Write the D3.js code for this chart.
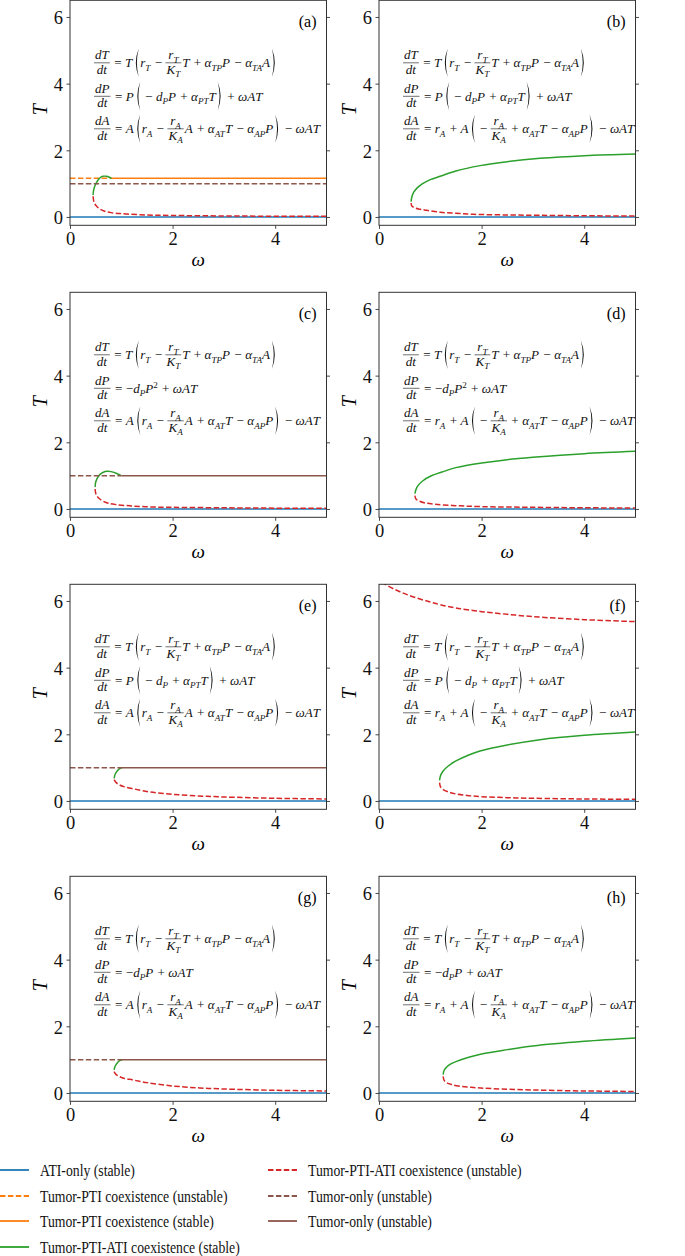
<!DOCTYPE html>
<html>
<head>
<meta charset="utf-8">
<script src="https://cdn.jsdelivr.net/npm/d3@7"></script>
<style>
  body { margin: 0; background: #fff; }
  text { font-family: "Liberation Serif", "DejaVu Serif", serif; white-space: pre; }
</style>
</head>
<body>
<svg id="chart"></svg>
<script>
// ---- data ----
var xTicks = [0, 2, 4];
var yTicks = [0, 2, 4, 6];
var panelLabels = ["(a)", "(b)", "(c)", "(d)", "(e)", "(f)", "(g)", "(h)"];

var atiOnlyT = 0;      // ATI-only equilibrium
var tumorOnlyT = 1.0;  // tumor-only equilibrium
var tumorPtiT = 1.16;  // tumor-PTI equilibrium (panel a)

// omega ranges of the constant branches, per panel (null = not drawn)
var tumorPtiUnstable = [[0, 0.8], null, null, null, null, null, null, null];
var tumorPtiStable   = [[0.8, 5], null, null, null, null, null, null, null];
var tumorOnlyUnstable = [[0, 5], null, [0, 1.0], null, [0, 1.0], null, [0, 1.03], null];
var tumorOnlyStable   = [null, null, [1.0, 5], null, [1.0, 5], null, [1.03, 5], null];

// tumor-PTI-ATI coexistence, stable (green) branches [omega, T]
var aGreen = [[0.45,0.66],[0.46,0.8],[0.49,0.95],[0.53,1.07],[0.58,1.17],[0.64,1.22],[0.71,1.22],[0.77,1.19],[0.81,1.16]];
var bGreen = [[0.625,0.46],[0.64,0.6],[0.68,0.75],[0.75,0.88],[0.85,1.0],[1.0,1.12],[1.19,1.22],[1.5,1.38],[1.97,1.54],[2.5,1.66],[3.14,1.76],[4,1.84],[5,1.89]];
var cGreen = [[0.49,0.66],[0.5,0.8],[0.53,0.92],[0.58,1.03],[0.65,1.1],[0.72,1.13],[0.8,1.12],[0.9,1.07],[1.0,1.0]];
var dGreen = [[0.7,0.46],[0.72,0.58],[0.76,0.7],[0.85,0.84],[1.0,0.98],[1.25,1.12],[1.5,1.24],[2,1.38],[2.5,1.48],[3,1.55],[4,1.66],[5,1.73]];
var eGreen = [[0.86,0.68],[0.88,0.8],[0.92,0.9],[0.97,0.97],[1.02,1.0]];
var fGreen = [[1.18,0.62],[1.2,0.76],[1.25,0.9],[1.35,1.05],[1.5,1.2],[1.75,1.38],[1.97,1.5],[2.5,1.68],[3.14,1.84],[4,1.97],[5,2.07]];
var gGreen = [[0.86,0.69],[0.88,0.8],[0.92,0.9],[0.97,0.97],[1.03,1.0]];
var hGreen = [[1.25,0.55],[1.27,0.68],[1.32,0.78],[1.4,0.87],[1.5,0.94],[1.75,1.07],[2,1.17],[2.5,1.3],[3,1.41],[4,1.55],[5,1.65]];

// tumor-PTI-ATI coexistence, unstable (red) branches [omega, T]
var aRed = [[0.45,0.62],[0.46,0.5],[0.48,0.4],[0.52,0.32],[0.58,0.24],[0.66,0.18],[0.8,0.13],[1.0,0.1],[1.5,0.06],[2,0.045],[3,0.03],[4,0.022],[5,0.018]];
var bRed = [[0.625,0.42],[0.64,0.33],[0.7,0.27],[0.8,0.23],[0.93,0.2],[1.2,0.14],[1.5,0.11],[1.84,0.08],[2.5,0.06],[3.14,0.05],[4,0.035],[5,0.03]];
var cRed = [[0.49,0.6],[0.5,0.48],[0.53,0.38],[0.58,0.3],[0.65,0.23],[0.75,0.17],[0.9,0.13],[1.2,0.09],[1.6,0.06],[2,0.05],[3,0.035],[4,0.025],[5,0.02]];
var dRed = [[0.7,0.4],[0.72,0.3],[0.78,0.24],[0.9,0.18],[1.1,0.14],[1.5,0.1],[2,0.07],[3,0.05],[4,0.035],[5,0.03]];
var eRed = [[0.86,0.64],[0.9,0.55],[0.97,0.48],[1.05,0.43],[1.25,0.36],[1.56,0.27],[2,0.2],[2.5,0.15],[3,0.12],[4,0.08],[5,0.06]];
var fRedUpper = [[0.05,6.56],[0.12,6.5],[0.3,6.35],[0.5,6.22],[0.75,6.08],[1.0,5.97],[1.19,5.89],[1.5,5.79],[2,5.68],[2.5,5.6],[3,5.53],[4,5.44],[5,5.38]];
var fRed = [[1.18,0.55],[1.2,0.42],[1.25,0.34],[1.35,0.27],[1.5,0.21],[1.75,0.16],[2,0.13],[2.5,0.1],[3,0.08],[4,0.06],[5,0.05]];
var gRed = [[0.86,0.64],[0.9,0.55],[0.97,0.49],[1.05,0.44],[1.23,0.39],[1.5,0.31],[2,0.21],[2.53,0.15],[3,0.12],[4,0.08],[5,0.06]];
var hRed = [[1.25,0.5],[1.27,0.38],[1.32,0.31],[1.4,0.26],[1.55,0.21],[1.8,0.17],[2.2,0.13],[3,0.09],[4,0.06],[5,0.045]];

var greenBranches = [aGreen, bGreen, cGreen, dGreen, eGreen, fGreen, gGreen, hGreen];
var redBranches = [[aRed], [bRed], [cRed], [dRed], [eRed], [fRedUpper, fRed], [gRed], [hRed]];

// model equations (markup: _ subscript, ^ superscript, fr = fraction, ( ) = big parens)
var eqT = [{fr: ["dT", "dt"]}, "=", "T", "(", "r_T", "−", {fr: ["r_T", "K_T"]}, "T", "+", "α_{TP}P", "−", "α_{TA}A", ")"];
var eqP1 = [{fr: ["dP", "dt"]}, "=", "P", "(", "−", "d_PP", "+", "α_{PT}T", ")", "+", "ωAT"];
var eqP2 = [{fr: ["dP", "dt"]}, "=", "−d_PP^2", "+", "ωAT"];
var eqP3 = [{fr: ["dP", "dt"]}, "=", "P", "(", "−", "d_P", "+", "α_{PT}T", ")", "+", "ωAT"];
var eqP4 = [{fr: ["dP", "dt"]}, "=", "−d_PP", "+", "ωAT"];
var eqA1 = [{fr: ["dA", "dt"]}, "=", "A", "(", "r_A", "−", {fr: ["r_A", "K_A"]}, "A", "+", "α_{AT}T", "−", "α_{AP}P", ")", "−", "ωAT"];
var eqA2 = [{fr: ["dA", "dt"]}, "=", "r_A", "+", "A", "(", "−", {fr: ["r_A", "K_A"]}, "+", "α_{AT}T", "−", "α_{AP}P", ")", "−", "ωAT"];
var eqP = [eqP1, eqP1, eqP2, eqP2, eqP3, eqP3, eqP4, eqP4];
var eqA = [eqA1, eqA2, eqA1, eqA2, eqA1, eqA2, eqA1, eqA2];

var legendLeft = ["ATI-only (stable)", "Tumor-PTI coexistence (unstable)", "Tumor-PTI coexistence (stable)", "Tumor-PTI-ATI coexistence (stable)"];
var legendRight = ["Tumor-PTI-ATI coexistence (unstable)", "Tumor-only (unstable)", "Tumor-only (unstable)"];

// ---- layout ----
var svgWidth = 685, svgHeight = 1256;
var colX = [70, 379];
var rowY = [0.3, 292.3, 584.3, 876.3];
var pw = 256.5, ph = 225;

var blue = "#1f77b4", orange = "#ff7f0e", green = "#2ca02c", red = "#d62728", brown = "#8c564b";
var dash = "5.5,2.4";
var axisColor = "#333";

var svg = d3.select("#chart")
  .attr("width", svgWidth)
  .attr("height", svgHeight)
  .style("background", "#fff");

// math text helper: returns text selection with tspans, x set later
function mathText(g, str, fs) {
  var runs = [];
  var i = 0;
  while (i < str.length) {
    var c = str[i];
    if (c === "_" || c === "^") {
      var s;
      if (str[i + 1] === "{") {
        var j = str.indexOf("}", i);
        s = str.slice(i + 2, j);
        i = j + 1;
      } else {
        s = str[i + 1];
        i += 2;
      }
      runs.push({t: s, sh: c === "_" ? fs * 0.28 : -fs * 0.38});
    } else {
      runs.push({t: c, sh: 0});
      i++;
    }
  }
  var t = g.append("text").attr("font-size", fs).attr("fill", "#111");
  var cur = 0;
  runs.forEach(function(r) {
    var italic = /[A-Za-zαω]/.test(r.t);
    t.append("tspan")
      .attr("dy", r.sh - cur)
      .attr("font-size", r.sh ? fs * 0.7 : fs)
      .attr("font-style", italic ? "italic" : "normal")
      .text(r.t);
    cur = r.sh;
  });
  return t;
}

function drawParen(g, x, open, h) {
  var w = 4.6;
  var path;
  if (open) {
    path = "M" + (x + w) + "," + (-h) + " Q" + (x - 1.2) + ",0 " + (x + w) + "," + h +
      " Q" + (x + 0.9) + ",0 " + (x + w) + "," + (-h) + "Z";
  } else {
    path = "M" + x + "," + (-h) + " Q" + (x + w + 1.2) + ",0 " + x + "," + h +
      " Q" + (x + w - 0.9) + ",0 " + x + "," + (-h) + "Z";
  }
  g.append("path").attr("d", path).attr("fill", "#111");
  return w;
}

// lays out one equation line with the fraction bar at y=0, returns natural width
function drawEquation(g, tokens, fs) {
  var x = 0;
  var base = fs * 0.33;
  var opGap = fs * 0.26;
  tokens.forEach(function(tk) {
    if (typeof tk === "object") {
      var n = mathText(g, tk.fr[0], fs).attr("y", -fs * 0.26);
      var d = mathText(g, tk.fr[1], fs).attr("y", fs * 0.85);
      var wn = n.node().getComputedTextLength();
      var wd = d.node().getComputedTextLength();
      var w = Math.max(wn, wd) + 2;
      n.attr("x", x + (w - wn) / 2);
      d.attr("x", x + (w - wd) / 2);
      g.append("line")
        .attr("x1", x).attr("x2", x + w)
        .attr("y1", 0).attr("y2", 0)
        .attr("stroke", "#111").attr("stroke-width", 0.6);
      x += w + 1;
    } else if (tk === "(" || tk === ")") {
      x += 1;
      x += drawParen(g, x, tk === "(", fs * 1.1);
      x += 1.5;
    } else if (tk === "=" || tk === "+" || tk === "−") {
      x += opGap;
      var o = g.append("text").attr("font-size", fs).attr("fill", "#111")
        .attr("x", x).attr("y", base).text(tk);
      x += o.node().getComputedTextLength() + opGap;
    } else {
      var t = mathText(g, tk, fs).attr("x", x).attr("y", base);
      x += t.node().getComputedTextLength() + 0.8;
    }
  });
  return x;
}

var line = d3.line().curve(d3.curveCatmullRom.alpha(0.5));

var eqGroups = [];

panelLabels.forEach(function(label, p) {
  var col = p % 2, row = Math.floor(p / 2);
  var x0 = colX[col], y0 = rowY[row];

  var x = d3.scaleLinear().domain([0, 5]).range([x0, x0 + pw]);
  var y = d3.scaleLinear().domain([-0.25, 6.5]).range([y0 + ph, y0]);

  var clipId = "clip" + p;
  svg.append("clipPath").attr("id", clipId)
    .append("rect").attr("x", x0).attr("y", y0).attr("width", pw).attr("height", ph);

  var plot = svg.append("g").attr("clip-path", "url(#" + clipId + ")");

  function hline(T, range, color, dashed) {
    if (!range) return;
    plot.append("line")
      .attr("x1", x(range[0])).attr("x2", x(range[1]))
      .attr("y1", y(T)).attr("y2", y(T))
      .attr("stroke", color).attr("stroke-width", 1.5)
      .attr("stroke-dasharray", dashed ? dash : null);
  }
  function curve(pts, color, dashed) {
    plot.append("path")
      .attr("d", line(pts.map(function(d) { return [x(d[0]), y(d[1])]; })))
      .attr("fill", "none")
      .attr("stroke", color).attr("stroke-width", 1.5)
      .attr("stroke-dasharray", dashed ? dash : null);
  }

  hline(atiOnlyT, [0, 5], blue, false);
  hline(tumorPtiT, tumorPtiUnstable[p], orange, true);
  hline(tumorPtiT, tumorPtiStable[p], orange, false);
  curve(greenBranches[p], green, false);
  redBranches[p].forEach(function(b) { curve(b, red, true); });
  hline(tumorOnlyT, tumorOnlyUnstable[p], brown, true);
  hline(tumorOnlyT, tumorOnlyStable[p], brown, false);

  // axes
  var fmt = d3.format("d");
  var bottom = svg.append("g")
    .attr("transform", "translate(0," + (y0 + ph) + ")")
    .call(d3.axisBottom(x).tickValues(xTicks).tickFormat(fmt).tickSize(3.5).tickSizeOuter(0).tickPadding(3.5));
  var left = svg.append("g")
    .attr("transform", "translate(" + x0 + ",0)")
    .call(d3.axisLeft(y).tickValues(yTicks).tickFormat(fmt).tickSize(3.5).tickSizeOuter(0).tickPadding(3.5));
  var right = svg.append("g")
    .attr("transform", "translate(" + (x0 + pw) + ",0)")
    .call(d3.axisRight(y).tickValues(yTicks).tickSize(3.5).tickSizeOuter(0).tickFormat(""));
  [bottom, left, right].forEach(function(a) {
    a.select(".domain").remove();
    a.attr("font-family", null).attr("font-size", null);
    a.selectAll("line").attr("stroke", axisColor).attr("stroke-width", 0.9);
    a.selectAll("text").attr("font-size", 18.5).attr("fill", "#111");
  });
  left.selectAll("text").attr("dy", "0.37em");

  svg.append("rect")
    .attr("x", x0).attr("y", y0).attr("width", pw).attr("height", ph)
    .attr("fill", "none").attr("stroke", axisColor).attr("stroke-width", 1);

  // axis labels
  svg.append("text")
    .attr("x", x0 + pw / 2).attr("y", y0 + ph + 41)
    .attr("text-anchor", "middle").attr("font-size", 19).attr("font-style", "italic")
    .text("ω");
  svg.append("text")
    .attr("transform", "translate(" + (x0 - 23) + "," + (y0 + ph / 2 - 3) + ") rotate(-90)")
    .attr("text-anchor", "middle").attr("font-size", 20).attr("font-style", "italic")
    .text("T");

  svg.append("text")
    .attr("x", x0 + pw - 10).attr("y", y0 + 27)
    .attr("text-anchor", "end").attr("font-size", 16)
    .text(label);

  // equations
  var eqs = [eqT, eqP[p], eqA[p]];
  var bars = [62.5, 96, 128.5];
  eqs.forEach(function(tokens, k) {
    var g = svg.append("g");
    var w = drawEquation(g, tokens, 13);
    eqGroups.push({g: g, x: x0 + 24, y: y0 + bars[k], w: w});
  });
});

// horizontal fit of the equations, taken from the first line
var eqSx = 184 / eqGroups[0].w;
eqGroups.forEach(function(e) {
  e.g.attr("transform", "translate(" + e.x + "," + e.y + ") scale(" + eqSx + ",1)");
});

// legend
var legendRows = [1170, 1196, 1221, 1247];
var leftStyles = [[blue, false], [orange, true], [orange, false], [green, false]];
var rightStyles = [[red, true], [brown, true], [brown, false]];
var legendTexts = [];

function legendItem(lx, tx, ly, color, dashed, label) {
  svg.append("line")
    .attr("x1", lx).attr("x2", lx + 29)
    .attr("y1", ly).attr("y2", ly)
    .attr("stroke", color).attr("stroke-width", 1.8)
    .attr("stroke-dasharray", dashed ? "5.5,2.4" : null);
  var g = svg.append("g");
  g.append("text").attr("font-size", 17.5).attr("fill", "#111").text(label);
  legendTexts.push({g: g, x: tx, y: ly + 6});
}

legendLeft.forEach(function(l, i) {
  legendItem(0, 40, legendRows[i], leftStyles[i][0], leftStyles[i][1], l);
});
legendRight.forEach(function(l, i) {
  legendItem(268, 308, legendRows[i], rightStyles[i][0], rightStyles[i][1], l);
});

var refW = legendTexts[0].g.select("text").node().getComputedTextLength();
var legSx = 95 / refW;
legendTexts.forEach(function(t) {
  t.g.attr("transform", "translate(" + t.x + "," + t.y + ") scale(" + legSx + ",1)");
});
</script>
</body>
</html>
